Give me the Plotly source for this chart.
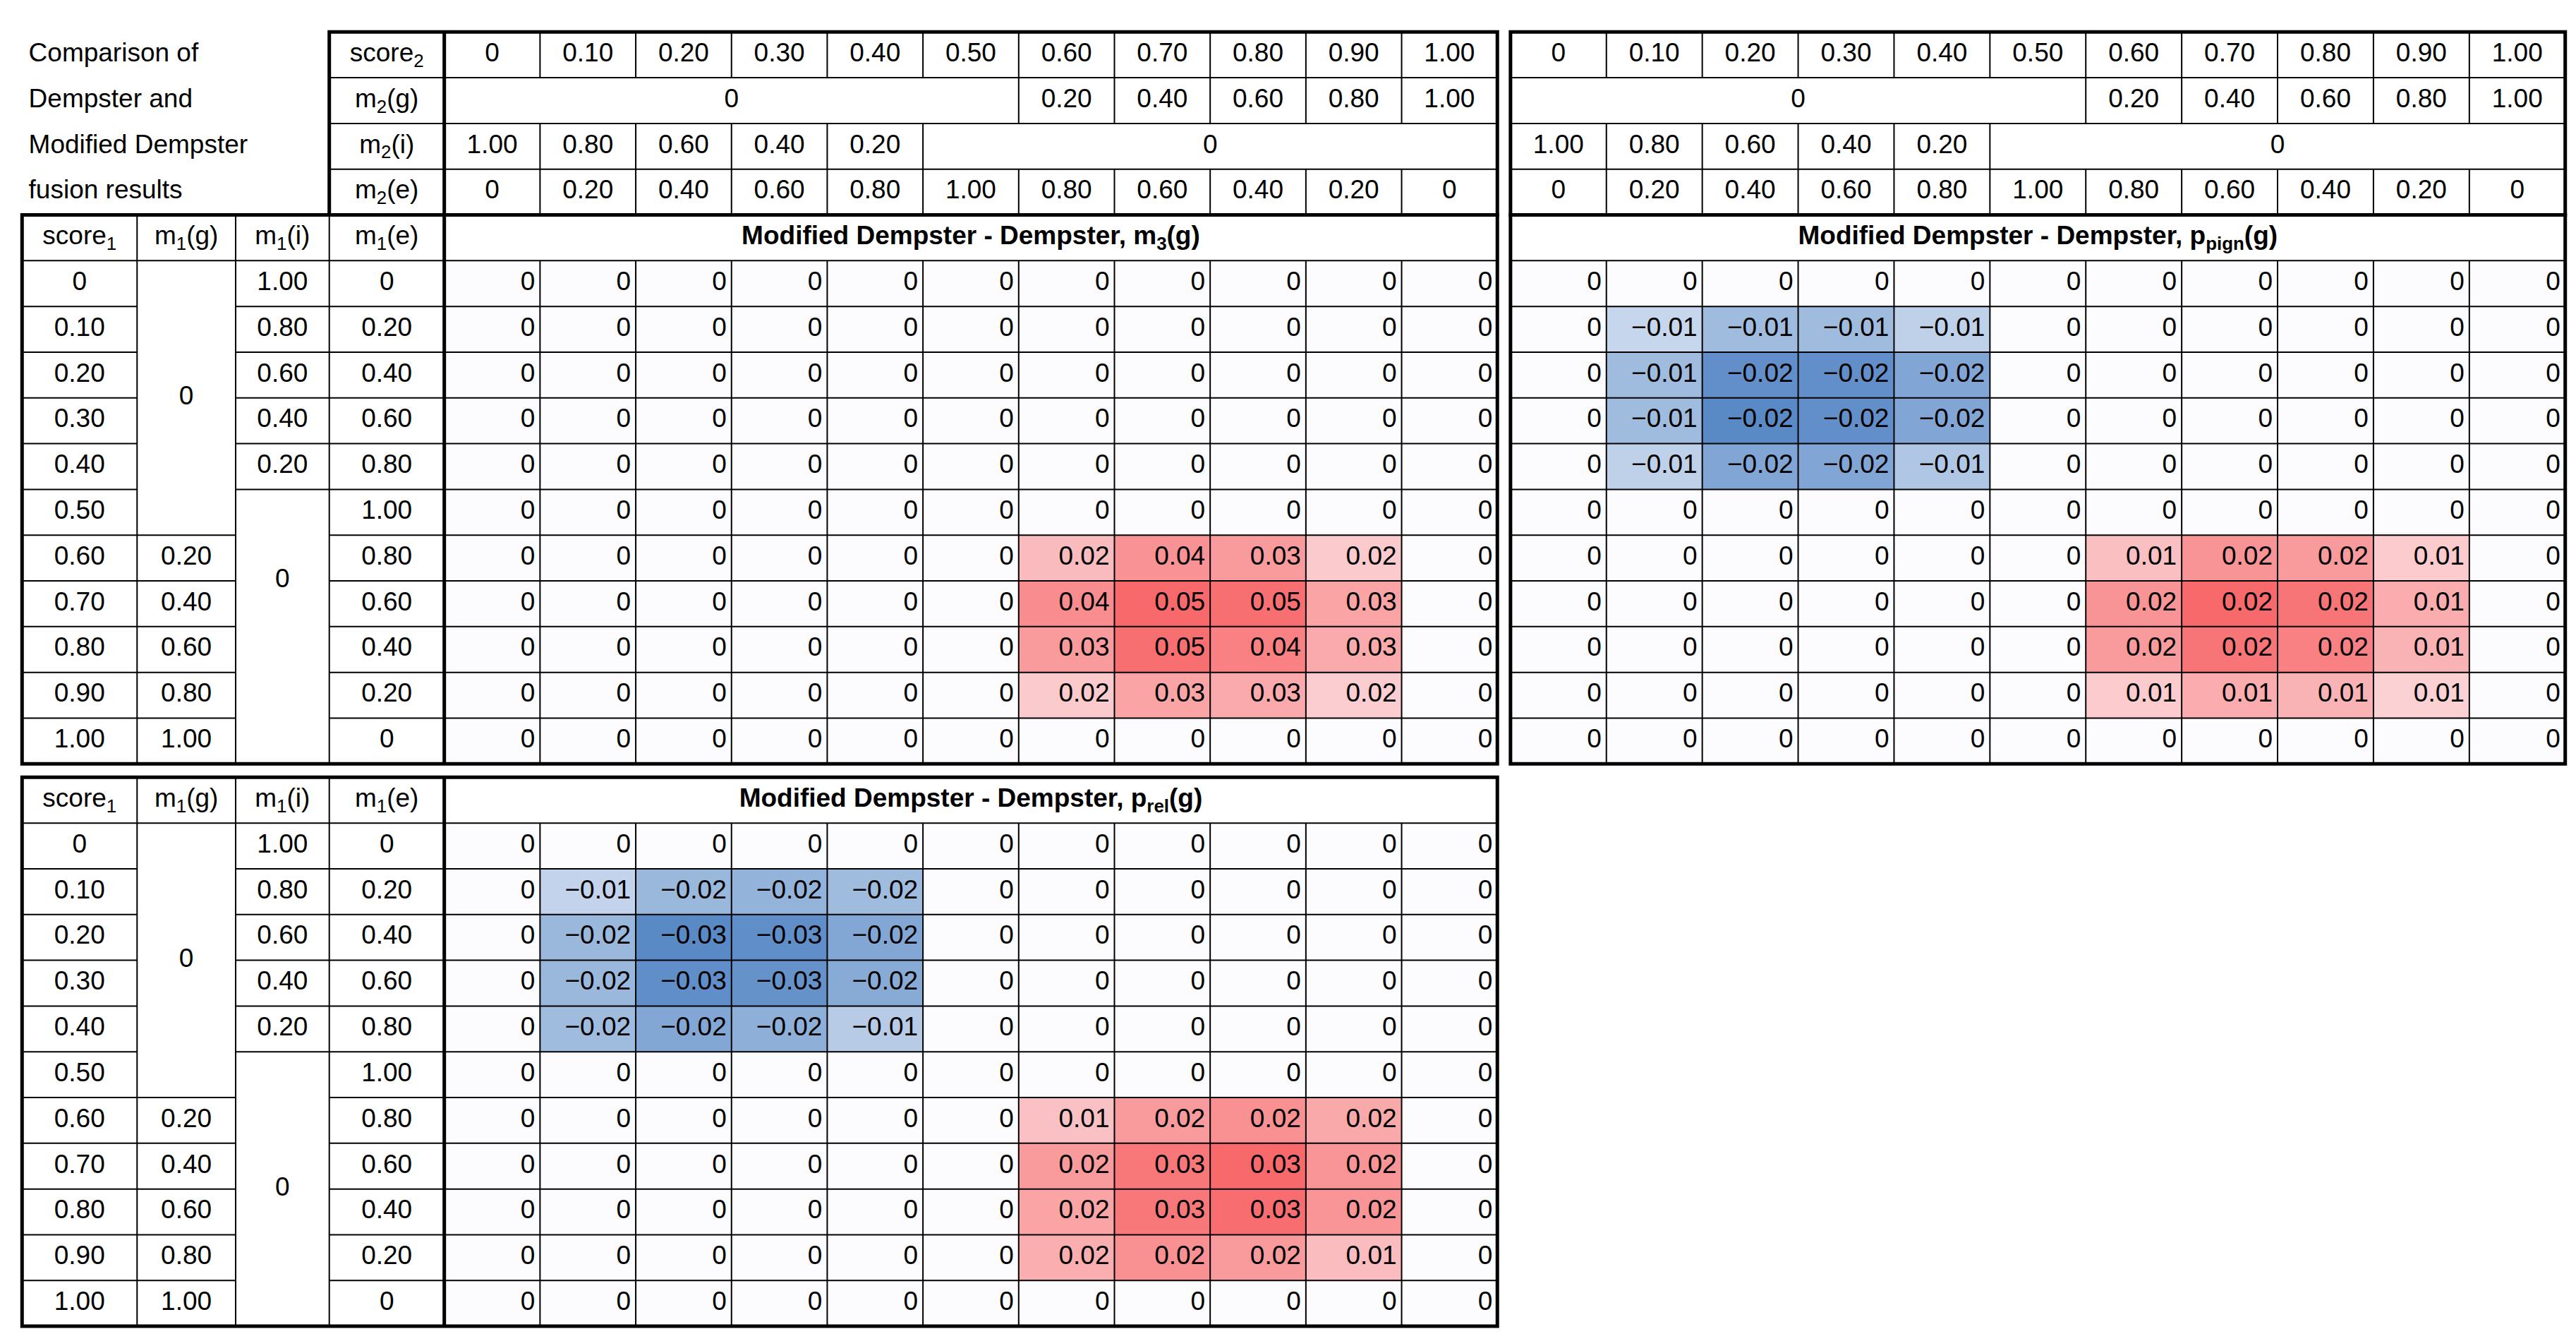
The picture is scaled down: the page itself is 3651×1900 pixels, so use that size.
import plotly.graph_objects as go

# ---------------- data ----------------
score_labels = ["0", "0.10", "0.20", "0.30", "0.40", "0.50", "0.60", "0.70", "0.80", "0.90", "1.00"]
m_g_labels = [None]*6 + ["0.20", "0.40", "0.60", "0.80", "1.00"]
m_i_labels = ["1.00", "0.80", "0.60", "0.40", "0.20"] + [None]*6
m_e_labels = ["0", "0.20", "0.40", "0.60", "0.80", "1.00", "0.80", "0.60", "0.40", "0.20", "0"]

t1_red = [[0.022, 0.036, 0.033, 0.017], [0.038, 0.050, 0.048, 0.030],
          [0.033, 0.048, 0.042, 0.028], [0.017, 0.030, 0.028, 0.016]]
t1_blue = [[0.0]*4 for _ in range(4)]
t2_blue = [[-0.007, -0.012, -0.012, -0.008], [-0.012, -0.020, -0.020, -0.016],
           [-0.012, -0.021, -0.020, -0.016], [-0.008, -0.016, -0.016, -0.010]]
t2_red = [[0.010, 0.017, 0.016, 0.008], [0.017, 0.024, 0.022, 0.013],
          [0.016, 0.022, 0.020, 0.012], [0.008, 0.013, 0.012, 0.007]]
t3_blue = [[-0.010, -0.017, -0.018, -0.016], [-0.017, -0.028, -0.027, -0.021],
           [-0.017, -0.027, -0.026, -0.020], [-0.016, -0.021, -0.019, -0.012]]
t3_red = [[0.012, 0.020, 0.022, 0.017], [0.020, 0.027, 0.030, 0.021],
          [0.018, 0.027, 0.029, 0.021], [0.016, 0.022, 0.020, 0.013]]

titles = ["Modified Dempster - Dempster, m<sub>3</sub>(g)",
          "Modified Dempster - Dempster, p<sub>pign</sub>(g)",
          "Modified Dempster - Dempster, p<sub>rel</sub>(g)"]

def build(blue, red):
    z = [[0.0]*11 for _ in range(11)]
    for i in range(4):
        for j in range(4):
            z[1+i][1+j] = blue[i][j]
            z[6+i][6+j] = red[i][j]
    return z

Z = [build(t1_blue, t1_red), build(t2_blue, t2_red), build(t3_blue, t3_red)]

# ---------------- geometry (display units) ----------------
W, H = 1568, 815
RH = 27.8
FONT = "Liberation Sans"
FS = 37
fig = go.Figure()
shapes = []

def line(x0, y0, x1, y1, w=2):
    shapes.append(dict(type="line", x0=x0, y0=y0, x1=x1, y1=y1, xref="x", yref="y",
                       line=dict(color="black", width=w), layer="above"))

def rect(x0, y0, x1, y1, w=5):
    shapes.append(dict(type="rect", x0=x0, y0=y0, x1=x1, y1=y1, xref="x", yref="y",
                       line=dict(color="black", width=w), fillcolor="rgba(0,0,0,0)", layer="above"))

tx, ty, tt, tp = [], [], [], []
def text(x, y, s, pos="middle center"):
    tx.append(x); ty.append(y); tt.append(s); tp.append(pos)

def fmt(v):
    if abs(v) < 0.005:
        return "0"
    s = f"{abs(v):.2f}"
    return ("\u2212" + s) if v < 0 else s

def value_table(x0, x1, ytop, z, title):
    cw = (x1 - x0) / 11
    xe = [x0 + cw*k for k in range(12)]
    ye = [ytop + RH*(k+1) for k in range(12)]
    zmin = min(min(r) for r in z); zmax = max(max(r) for r in z)
    zmin = min(zmin, 0); zmax = max(zmax, 1e-9)
    mid = -zmin/(zmax - zmin) if zmax > zmin else 0
    if mid <= 0:
        cs = [[0, "#FCFCFF"], [1, "#F8696B"]]
    else:
        cs = [[0, "#5A8AC6"], [mid, "#FCFCFF"], [1, "#F8696B"]]
    fig.add_trace(go.Heatmap(x=xe, y=ye, z=z, colorscale=cs, zmin=zmin, zmax=zmax,
                             showscale=False, hoverinfo="skip"))
    text((x0+x1)/2, ytop + RH/2, "<b>" + title + "</b>")
    line(x0, ytop+RH, x1, ytop+RH, 2)
    for r in range(11):
        for c in range(11):
            text(xe[c+1] - 3, ye[r] + RH/2, fmt(z[r][c]), "middle left")
        if r < 10:
            line(x0, ye[r+1], x1, ye[r+1], 2)
    for c in range(1, 11):
        line(xe[c], ytop+RH, xe[c], ytop+RH*12, 2)
    return xe

def header_block(x0, x1, ytop):
    cw = (x1 - x0) / 11
    xe = [x0 + cw*k for k in range(12)]
    ys = [ytop + RH*k for k in range(5)]
    for k in range(1, 4):
        line(x0, ys[k], x1, ys[k], 2)
    for c in range(1, 11):
        line(xe[c], ys[0], xe[c], ys[1], 2)
        line(xe[c], ys[3], xe[c], ys[4], 2)
    for c in range(6, 11):
        line(xe[c], ys[1], xe[c], ys[2], 2)
    for c in range(1, 6):
        line(xe[c], ys[2], xe[c], ys[3], 2)
    for c in range(11):
        cx = (xe[c]+xe[c+1])/2
        text(cx, ys[0]+RH/2, score_labels[c])
        text(cx, ys[3]+RH/2, m_e_labels[c])
        if m_g_labels[c]:
            text(cx, ys[1]+RH/2, m_g_labels[c])
        if m_i_labels[c]:
            text(cx, ys[2]+RH/2, m_i_labels[c])
    text((xe[0]+xe[6])/2, ys[1]+RH/2, "0")
    text((xe[5]+xe[11])/2, ys[2]+RH/2, "0")

def label_cols(ytop, g0_row, i0_row):
    xs = [10, 80, 140, 197, 267]
    heads = ["score<sub>1</sub>", "m<sub>1</sub>(g)", "m<sub>1</sub>(i)", "m<sub>1</sub>(e)"]
    for k in range(4):
        text((xs[k]+xs[k+1])/2, ytop+RH/2, heads[k])
    for k in range(1, 4):
        line(xs[k], ytop, xs[k], ytop+RH*12, 2)
    line(xs[0], ytop+RH, xs[4], ytop+RH, 2)
    for r in range(11):
        yc = ytop + RH*(r+1.5)
        yb = ytop + RH*(r+2)
        text((xs[0]+xs[1])/2, yc, score_labels[r])
        text((xs[3]+xs[4])/2, yc, m_e_labels[r])
        if m_g_labels[r]:
            text((xs[1]+xs[2])/2, yc, m_g_labels[r])
        if m_i_labels[r]:
            text((xs[2]+xs[3])/2, yc, m_i_labels[r])
        if r < 10:
            line(xs[0], yb, xs[1], yb, 2)
            line(xs[3], yb, xs[4], yb, 2)
            if r >= 5:
                line(xs[1], yb, xs[2], yb, 2)
            if r <= 4:
                line(xs[2], yb, xs[3], yb, 2)
    text((xs[1]+xs[2])/2, ytop + RH*(g0_row+1.5), "0")
    text((xs[2]+xs[3])/2, ytop + RH*(i0_row+1.5), "0")
    line(xs[4], ytop, xs[4], ytop+RH*12, 5)

TOP = 16
# table 1
header_block(267, 908, TOP)
text(232, TOP+RH*0.5, "score<sub>2</sub>"); text(232, TOP+RH*1.5, "m<sub>2</sub>(g)")
text(232, TOP+RH*2.5, "m<sub>2</sub>(i)"); text(232, TOP+RH*3.5, "m<sub>2</sub>(e)")
for k in range(1, 4):
    line(197, TOP+RH*k, 267, TOP+RH*k, 2)
line(267, TOP, 267, TOP+RH*4, 5)
for k, s in enumerate(["Comparison of", "Dempster and", "Modified Dempster", "fusion results"]):
    text(14, TOP+RH*(k+0.5), s, "middle right")
rect(197, TOP, 908, TOP+RH*4)
value_table(267, 908, TOP+RH*4, Z[0], titles[0])
label_cols(TOP+RH*4, 2.5, 6.5)
rect(10, TOP+RH*4, 908, TOP+RH*16)

# table 2
header_block(916, 1558, TOP)
rect(916, TOP, 1558, TOP+RH*4)
value_table(916, 1558, TOP+RH*4, Z[1], titles[1])
rect(916, TOP+RH*4, 1558, TOP+RH*16)

# table 3
T3 = 469
value_table(267, 908, T3, Z[2], titles[2])
label_cols(T3, 2.5, 7.5)
rect(10, T3, 908, T3+RH*12)

fig.add_trace(go.Scatter(x=tx, y=ty, text=tt, mode="text", textposition=tp,
                         textfont=dict(family=FONT, size=FS, color="black"),
                         hoverinfo="skip", showlegend=False))

fig.update_layout(width=3651, height=1900, margin=dict(l=0, r=0, t=0, b=0),
                  plot_bgcolor="white", paper_bgcolor="white", shapes=shapes,
                  showlegend=False,
                  xaxis=dict(range=[0, W], visible=False, fixedrange=True),
                  yaxis=dict(range=[H, 0], visible=False, fixedrange=True))
fig.write_html("out.html")
